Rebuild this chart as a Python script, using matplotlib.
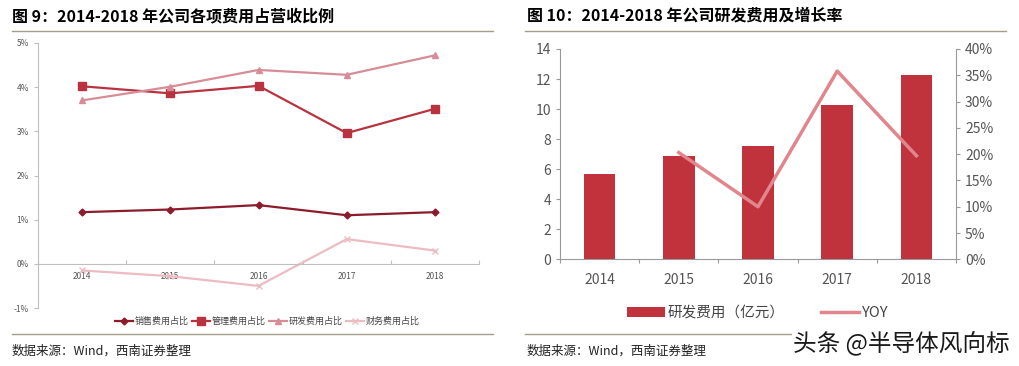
import numpy as np
import matplotlib
matplotlib.use('Agg')
from matplotlib import pyplot as plt
from matplotlib.ticker import FuncFormatter

plt.rcParams['font.family'] = ['Noto Sans CJK SC', 'DejaVu Sans']

years = ['2014', '2015', '2016', '2017', '2018']
sales_ratio = [1.17, 1.23, 1.33, 1.10, 1.17]
admin_ratio = [4.02, 3.86, 4.03, 2.96, 3.51]
rd_ratio = [3.70, 4.01, 4.39, 4.28, 4.72]
fin_ratio = [-0.15, -0.28, -0.50, 0.56, 0.30]
rd_cost = [5.69, 6.90, 7.57, 10.24, 12.24]
yoy_years = ['2015', '2016', '2017', '2018']
yoy = [20.3, 10.0, 35.8, 19.7]

fig = plt.figure(figsize=(10.2, 3.66), dpi=100)
W, H = 1020, 366

def fx(px):
    return px / W

def fy(py):
    return 1 - py / H

# titles and frame lines
fig.text(fx(12), fy(16), '图 9：2014-2018 年公司各项费用占营收比例', fontsize=11.5,
         fontweight='heavy', va='center', ha='left')
fig.text(fx(527), fy(16), '图 10：2014-2018 年公司研发费用及增长率', fontsize=11.5,
         fontweight='heavy', va='center', ha='left')
line_c = '#a39e88'
for x0, x1 in [(12, 493), (525, 1006)]:
    fig.add_artist(plt.Line2D([fx(x0), fx(x1)], [fy(31), fy(31)], color=line_c, lw=1))
    fig.add_artist(plt.Line2D([fx(x0), fx(x1)], [fy(334), fy(334)], color=line_c, lw=1))
fig.text(fx(12), fy(351), '数据来源：Wind，西南证券整理', fontsize=9, style='italic',
         va='center', ha='left', color='#222222')
fig.text(fx(527), fy(351), '数据来源：Wind，西南证券整理', fontsize=9, style='italic',
         va='center', ha='left', color='#222222')

# left chart
ax1 = fig.add_axes([fx(38), fy(308), fx(479 - 38), (308 - 43) / H])
x = np.arange(len(years))
ax1.plot(x, sales_ratio, color='#8c1c2c', lw=1.6, marker='D', ms=3.5, label='销售费用占比')
ax1.plot(x, admin_ratio, color='#b8333f', lw=1.6, marker='s', ms=5.5, label='管理费用占比')
ax1.plot(x, rd_ratio, color='#d68d98', lw=1.6, marker='^', ms=5, label='研发费用占比')
ax1.plot(x, fin_ratio, color='#ebbcc3', lw=1.6, marker='x', ms=4, label='财务费用占比')
ax1.set_xlim(-0.5, 4.5)
ax1.set_ylim(-1, 5)
ax1.set_yticks(range(-1, 6))
ax1.yaxis.set_major_formatter(FuncFormatter(lambda v, p: f'{v:.0f}%'))
ax1.spines['top'].set_visible(False)
ax1.spines['right'].set_visible(False)
ax1.spines['bottom'].set_position(('data', 0))
for s in ['left', 'bottom']:
    ax1.spines[s].set_color('#bfbfbf')
ax1.set_xticks(np.arange(-0.5, 5, 1))
ax1.set_xticklabels([])
ax1.set_xticks(x, minor=True)
ax1.set_xticklabels(years, minor=True)
ax1.tick_params(axis='x', which='minor', length=0, labelsize=6, labelcolor='#555555', pad=6)
ax1.tick_params(axis='x', which='major', length=3, color='#bfbfbf', direction='in')
ax1.tick_params(axis='y', labelsize=6, labelcolor='#555555', length=3, color='#bfbfbf')
ax1.legend(loc='center', bbox_to_anchor=(0.52, -0.05), ncol=4, frameon=False,
           fontsize=6.5, handlelength=2.0, columnspacing=0.4, handletextpad=0.15,
           labelcolor='#444444')

# right chart
ax2 = fig.add_axes([fx(560), fy(259.3), fx(956 - 560), (259.3 - 49) / H])
ax2.bar(x, rd_cost, width=0.4, color='#c0323c', label='研发费用（亿元）')
ax2.set_xlim(-0.5, 4.5)
ax2.set_ylim(0, 14)
ax2.set_yticks(range(0, 15, 2))
ax2.set_xticks(np.arange(-0.5, 5, 1))
ax2.set_xticklabels([])
ax2.set_xticks(x, minor=True)
ax2.set_xticklabels(years, minor=True)
ax2.tick_params(axis='x', which='minor', length=0, labelsize=10, labelcolor='#555555', pad=10)
ax2.tick_params(axis='x', which='major', length=3, color='#999999')
ax2.tick_params(axis='y', labelsize=10, labelcolor='#555555', length=3, color='#999999')
for s in ['top', 'right']:
    ax2.spines[s].set_visible(False)
for s in ['left', 'bottom']:
    ax2.spines[s].set_color('#999999')

ax3 = ax2.twinx()
ax3.plot([years.index(y) for y in yoy_years], yoy, color='#e0868c', lw=2.5, label='YOY')
ax3.set_ylim(0, 40)
ax3.set_yticks(range(0, 41, 5))
ax3.yaxis.set_major_formatter(FuncFormatter(lambda v, p: f'{v:.0f}%'))
ax3.tick_params(axis='y', labelsize=10, labelcolor='#555555', length=3, color='#999999')
for s in ['top', 'left', 'bottom']:
    ax3.spines[s].set_visible(False)
ax3.spines['right'].set_color('#999999')

h1, l1 = ax2.get_legend_handles_labels()
h2, l2 = ax3.get_legend_handles_labels()
ax3.legend(h1 + h2, l1 + l2, loc='center', bbox_to_anchor=(0.5, -0.255), ncol=2,
           frameon=False, fontsize=10.5, handlelength=2.6, columnspacing=2.5,
           handletextpad=0.2, labelcolor='#444444')

# watermark
fig.text(fx(1010), fy(344), '头条 @半导体风向标', fontsize=17, ha='right', va='center',
         color='#1a1a1a', bbox=dict(facecolor='white', edgecolor='none', pad=1))

fig.savefig('out.png', dpi=100)
